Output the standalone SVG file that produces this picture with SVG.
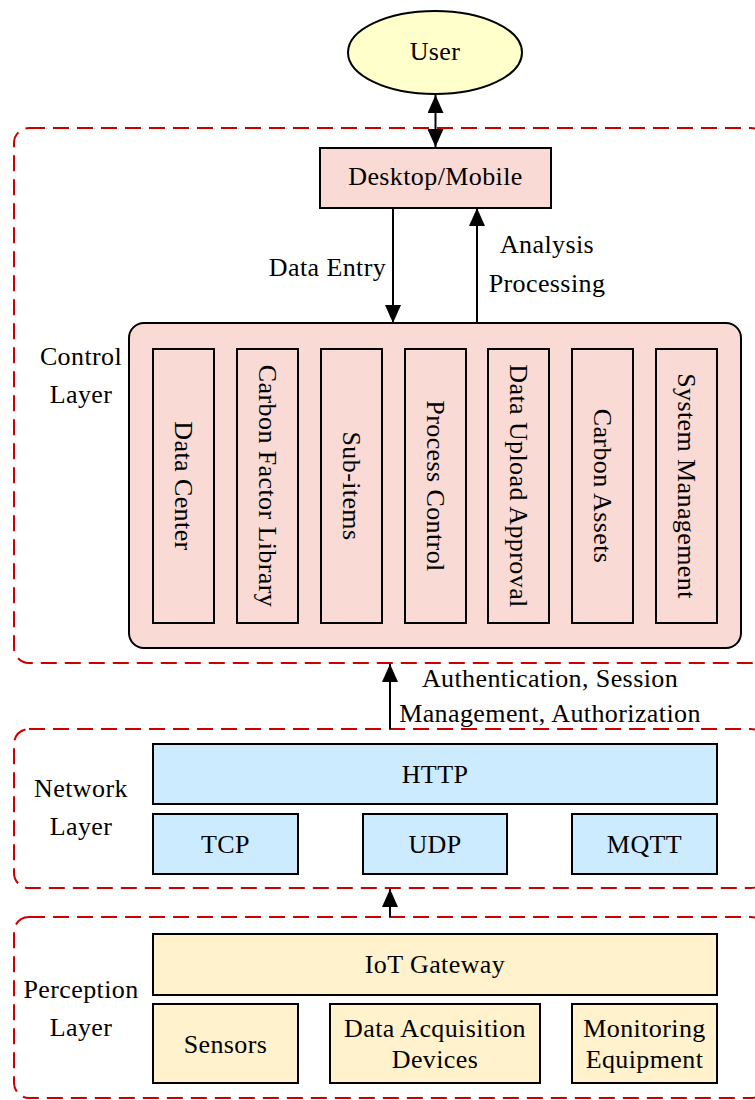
<svg xmlns="http://www.w3.org/2000/svg" width="755" height="1100" viewBox="0 0 755 1100">
  <style>
    text { font-family: "Liberation Serif", "Times New Roman", serif; font-size: 26px; letter-spacing: 0.4px; fill: #000; }
    .mid { text-anchor: middle; }
    .vt { text-anchor: middle; dominant-baseline: central; }
    .layer { fill: none; stroke: #CC0000; stroke-width: 2; stroke-dasharray: 16 8; }
    .pink { fill: #F9DAD5; stroke: #000; stroke-width: 2; }
    .blue { fill: #CCEBFF; stroke: #000; stroke-width: 2; }
    .yellow { fill: #FFF2CC; stroke: #000; stroke-width: 2; }
    .conn { stroke: #000; stroke-width: 2; fill: none; }
  </style>
  <defs>
    <marker id="arrow" markerUnits="userSpaceOnUse" markerWidth="18" markerHeight="16" refX="18" refY="8" orient="auto-start-reverse">
      <path d="M0,0 L18,8 L0,16 z" fill="#000"/>
    </marker>
  </defs>

  <rect width="755" height="1100" fill="#fff"/>

  <!-- layer frames -->
  <g id="layers">
    <rect id="control-frame" class="layer" x="14" y="128" width="752" height="535" rx="15"/>
    <rect id="network-frame" class="layer" x="14" y="729" width="752" height="159" rx="15"/>
    <rect id="perception-frame" class="layer" x="14" y="917" width="752" height="181" rx="15"/>
    <text class="mid" x="81" y="365">Control</text>
    <text class="mid" x="81" y="403">Layer</text>
    <text class="mid" x="81" y="797">Network</text>
    <text class="mid" x="81" y="835">Layer</text>
    <text class="mid" x="81" y="998">Perception</text>
    <text class="mid" x="81" y="1036">Layer</text>
  </g>

  <!-- user -->
  <g id="user">
    <ellipse cx="435" cy="52.5" rx="87" ry="41.5" fill="#FFFFCC" stroke="#000" stroke-width="2"/>
    <text class="mid" x="435" y="60">User</text>
  </g>

  <!-- client -->
  <g id="desktop-mobile">
    <rect class="pink" x="320" y="148" width="231" height="60"/>
    <text class="mid" x="435.5" y="185">Desktop/Mobile</text>
  </g>

  <!-- control layer modules -->
  <g id="control-layer">
    <rect class="pink" x="129" y="323" width="612" height="325" rx="15"/>
  </g>
  <g id="data-center">
    <rect class="pink" x="153" y="349" width="61" height="274"/>
    <text class="vt" transform="translate(183.5,486) rotate(90)">Data Center</text>
  </g>
  <g id="carbon-factor-library">
    <rect class="pink" x="237" y="349" width="61" height="274"/>
    <text class="vt" transform="translate(267.5,486) rotate(90)">Carbon Factor Library</text>
  </g>
  <g id="sub-items">
    <rect class="pink" x="321" y="349" width="61" height="274"/>
    <text class="vt" transform="translate(351.5,486) rotate(90)">Sub-items</text>
  </g>
  <g id="process-control">
    <rect class="pink" x="405" y="349" width="61" height="274"/>
    <text class="vt" transform="translate(435.5,486) rotate(90)">Process Control</text>
  </g>
  <g id="data-upload-approval">
    <rect class="pink" x="488" y="349" width="61" height="274"/>
    <text class="vt" transform="translate(518.5,486) rotate(90)">Data Upload Approval</text>
  </g>
  <g id="carbon-assets">
    <rect class="pink" x="572" y="349" width="61" height="274"/>
    <text class="vt" transform="translate(602.5,486) rotate(90)">Carbon Assets</text>
  </g>
  <g id="system-management">
    <rect class="pink" x="656" y="349" width="61" height="274"/>
    <text class="vt" transform="translate(686.5,486) rotate(90)">System Management</text>
  </g>

  <!-- network layer -->
  <g id="http">
    <rect class="blue" x="153" y="744" width="564" height="60"/>
    <text class="mid" x="435" y="783">HTTP</text>
  </g>
  <g id="tcp">
    <rect class="blue" x="153" y="814" width="145" height="60"/>
    <text class="mid" x="225.5" y="853">TCP</text>
  </g>
  <g id="udp">
    <rect class="blue" x="363" y="814" width="144" height="60"/>
    <text class="mid" x="435" y="853">UDP</text>
  </g>
  <g id="mqtt">
    <rect class="blue" x="572" y="814" width="145" height="60"/>
    <text class="mid" x="644.5" y="853">MQTT</text>
  </g>

  <!-- perception layer -->
  <g id="iot-gateway">
    <rect class="yellow" x="153" y="934" width="564" height="61"/>
    <text class="mid" x="435" y="973">IoT Gateway</text>
  </g>
  <g id="sensors">
    <rect class="yellow" x="153" y="1004" width="145" height="79"/>
    <text class="mid" x="225.5" y="1053">Sensors</text>
  </g>
  <g id="data-acquisition-devices">
    <rect class="yellow" x="330" y="1004" width="210" height="79"/>
    <text class="mid" x="435" y="1037">Data Acquisition</text>
    <text class="mid" x="435" y="1068">Devices</text>
  </g>
  <g id="monitoring-equipment">
    <rect class="yellow" x="572" y="1004" width="145" height="79"/>
    <text class="mid" x="644.5" y="1037">Monitoring</text>
    <text class="mid" x="644.5" y="1068">Equipment</text>
  </g>

  <!-- connectors -->
  <g id="connectors">
    <line class="conn" x1="435.5" y1="95" x2="435.5" y2="147" marker-start="url(#arrow)" marker-end="url(#arrow)"/>
    <line class="conn" x1="393" y1="208" x2="393" y2="323" marker-end="url(#arrow)"/>
    <line class="conn" x1="477" y1="323" x2="477" y2="208" marker-end="url(#arrow)"/>
    <line class="conn" x1="390" y1="729" x2="390" y2="664" marker-end="url(#arrow)"/>
    <line class="conn" x1="390" y1="917" x2="390" y2="889" marker-end="url(#arrow)"/>
    <text class="mid" x="327.5" y="276">Data Entry</text>
    <text class="mid" x="547" y="253">Analysis</text>
    <text class="mid" x="547" y="292">Processing</text>
    <text class="mid" x="550" y="687">Authentication, Session</text>
    <text class="mid" x="550" y="722">Management, Authorization</text>
  </g>
</svg>
